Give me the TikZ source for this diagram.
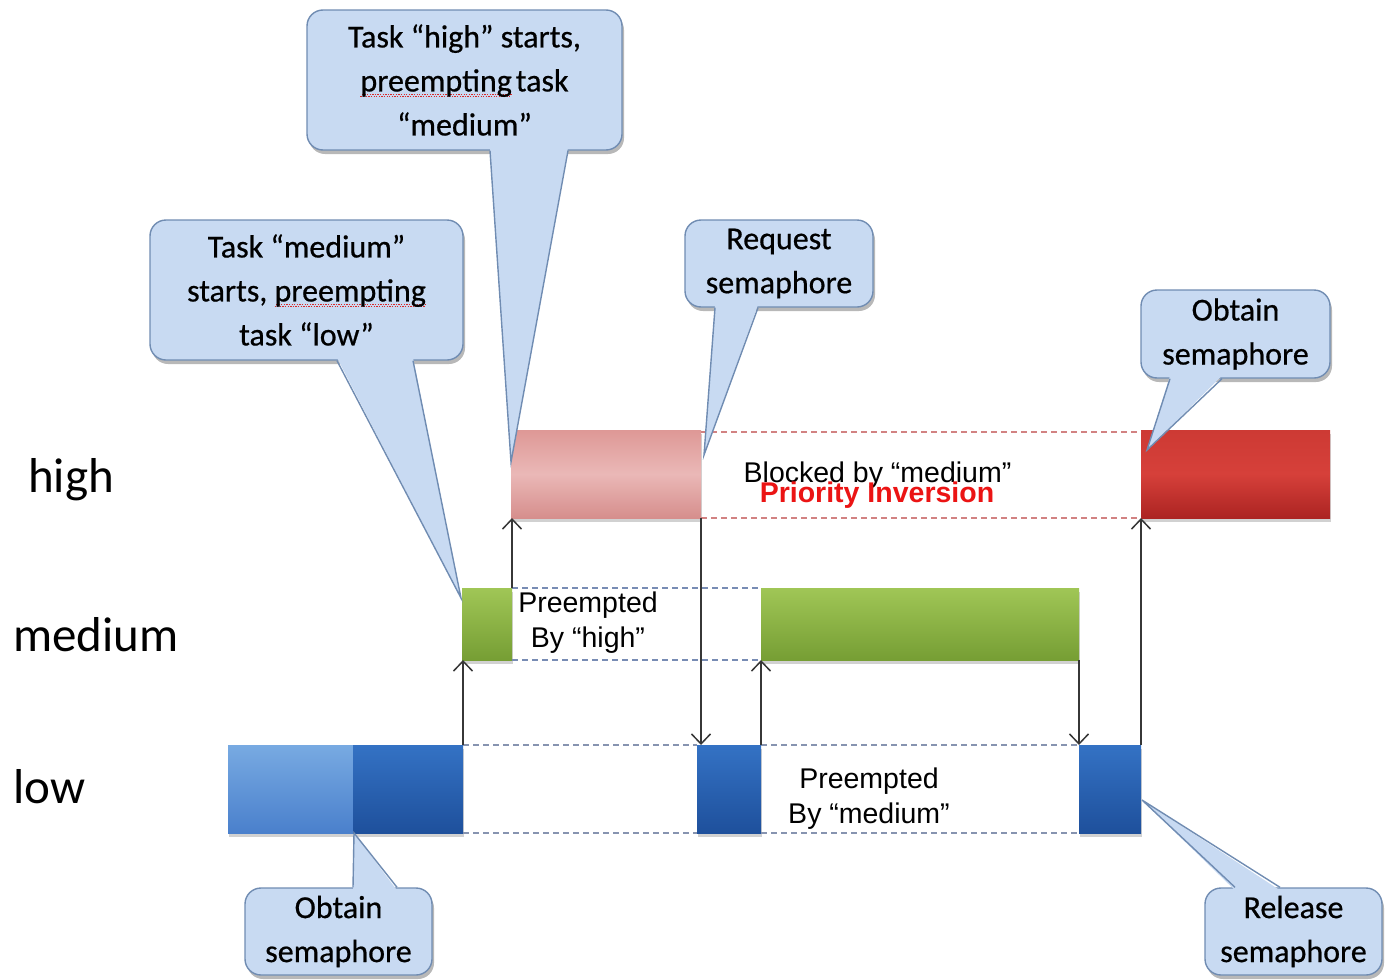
\documentclass[tikz,border=0pt]{standalone}
\usepackage{fontspec}
\setmainfont{Carlito}
\newfontfamily\calloutfont{Carlito}[FakeBold=0.6]
\newfontfamily\arialfont{Liberation Sans}
\usetikzlibrary{arrows.meta,shadows}

\definecolor{bubblefill}{RGB}{200,218,242}
\definecolor{bubbleline}{RGB}{112,140,178}
\definecolor{spellred}{RGB}{220,40,40}
\definecolor{pinkT}{RGB}{222,152,150}
\definecolor{pinkM}{RGB}{234,184,183}
\definecolor{pinkB}{RGB}{214,142,140}
\definecolor{redT}{RGB}{205,58,52}
\definecolor{redM}{RGB}{214,64,58}
\definecolor{redB}{RGB}{172,36,34}
\definecolor{greenT}{RGB}{160,198,86}
\definecolor{greenB}{RGB}{118,158,52}
\definecolor{lblueT}{RGB}{120,170,226}
\definecolor{lblueB}{RGB}{74,128,204}
\definecolor{dblueT}{RGB}{52,114,196}
\definecolor{dblueB}{RGB}{30,80,156}
\definecolor{hidash}{RGB}{210,130,130}
\definecolor{meddash}{RGB}{120,140,180}
\definecolor{lowdash}{RGB}{135,148,176}
\definecolor{arrowgray}{RGB}{55,55,55}
\definecolor{inversionred}{RGB}{235,20,20}

% wavy spell-check underline drawn under a word
\newcommand\spellmark{\textcolor{spellred}{\rule[-5pt]{1.3pt}{0.9pt}\rule[-3.8pt]{1.3pt}{0.9pt}}}
\newcommand\misspelt[1]{\leavevmode\setbox0\hbox{#1}%
  \rlap{\hbox to\wd0{\xleaders\hbox{\spellmark}\hfill}}\box0}

\begin{document}
\begin{tikzpicture}[x=1pt,y=-1pt,
  bar/.style={inner sep=0pt, outer sep=0pt, anchor=north west,
    drop shadow={shadow xshift=1pt, shadow yshift=-4pt, fill=black, opacity=0.18}},
  bubble/.style={draw=bubbleline, fill=bubblefill, line width=1.4pt,
    rounded corners=16pt, inner sep=0pt, align=center,
    font=\calloutfont\fontsize{32}{44}\selectfont,
    drop shadow={shadow xshift=2pt, shadow yshift=-4pt, fill=black, opacity=0.28}},
  beak/.style={fill=bubblefill},
  beakline/.style={draw=bubbleline, line width=1.4pt},
  level/.style={anchor=base west, inner sep=0pt, font=\fontsize{49}{49}\selectfont},
  note/.style={anchor=base, inner sep=0pt, align=center,
    font=\arialfont\fontsize{28.5}{35}\selectfont},
  hiline/.style={draw=hidash, line width=1.5pt, dash pattern=on 6pt off 4pt},
  medline/.style={draw=meddash, line width=1.5pt, dash pattern=on 6pt off 4pt},
  lowline/.style={draw=lowdash, line width=1.5pt, dash pattern=on 6pt off 4pt},
  switch/.style={draw=arrowgray, line width=1.6pt,
    -{Straight Barb[length=10pt,width=19pt,line width=1.5pt]}}
]
\useasboundingbox (0,0) rectangle (1385,980);

% priority levels
\node[level] (lvhigh) at (28,492) {high};
\node[level] (lvmed) at (13,651) {medium};
\node[level] (lvlow) at (13,803) {low};

% execution bars
\node[bar, minimum width=190pt, minimum height=88pt, top color=pinkT, bottom color=pinkB, middle color=pinkM] (highA) at (511,430) {};
\node[bar, minimum width=189pt, minimum height=88pt, top color=redT, bottom color=redB, middle color=redM] (highB) at (1141,430) {};
\node[bar, minimum width=50pt, minimum height=72pt, top color=greenT, bottom color=greenB] (medA) at (462,588) {};
\node[bar, minimum width=318pt, minimum height=72pt, top color=greenT, bottom color=greenB] (medB) at (761,588) {};
\node[bar, minimum width=125pt, minimum height=88pt, top color=lblueT, bottom color=lblueB] (lowA) at (228,745) {};
\node[bar, minimum width=110pt, minimum height=88pt, top color=dblueT, bottom color=dblueB] (lowB) at (353,745) {};
\node[bar, minimum width=64pt, minimum height=88pt, top color=dblueT, bottom color=dblueB] (lowC) at (697,745) {};
\node[bar, minimum width=62pt, minimum height=88pt, top color=dblueT, bottom color=dblueB] (lowD) at (1079,745) {};

% waiting intervals
\draw[hiline] ([yshift=-2pt]highA.north east) -- ([yshift=-2pt]highB.north west);
\draw[hiline] (highA.south east) -- (highB.south west);
\draw[medline] (medA.north east) -- (medB.north west);
\draw[medline] (medA.south east) -- (medB.south west);
\draw[lowline] (lowB.north east) -- (lowC.north west);
\draw[lowline] (lowB.south east) -- (lowC.south west);
\draw[lowline] (lowC.north east) -- (lowD.north west);
\draw[lowline] (lowC.south east) -- (lowD.south west);

% context switches
\draw[switch] (lowB.north east) -- (lowB.north east |- medA.south);
\draw[switch] (medA.north east) -- (medA.north east |- highA.south);
\draw[switch] (highA.south east) -- (highA.south east |- lowC.north);
\draw[switch] (lowC.north east) -- (lowC.north east |- medB.south);
\draw[switch] (medB.south east) -- (medB.south east |- lowD.north);
\draw[switch] (lowD.north east) -- (lowD.north east |- highB.south);

% interval notes
\node[note] (blocked) at (877.5,482) {Blocked by “medium”};
\node[note, text=inversionred, font=\arialfont\bfseries\fontsize{28.5}{35}\selectfont] (inversion) at (877,502) {Priority Inversion};
\node[note] (prehigh) at (588,647) {Preempted\\By “high”};
\node[note] (premed) at (869,823) {Preempted\\By “medium”};

% callouts
\node[bubble, minimum width=315pt, minimum height=140pt] (c1) at (464.5,80)
  {Task “high” starts,\\\misspelt{preempting}\hspace{4pt}task\\“medium”};
\coordinate (t1) at (511,462);
\fill[beak] ([xshift=25.5pt,yshift=3pt]c1.south) -- (t1) -- ([xshift=103.5pt,yshift=3pt]c1.south) -- cycle;
\draw[beakline] ([xshift=25.5pt]c1.south) -- (t1) -- ([xshift=103.5pt]c1.south);

\node[bubble, minimum width=313pt, minimum height=140pt] (c2) at (306.5,290)
  {Task “medium”\\starts, \misspelt{preempting}\\task “low”};
\coordinate (t2) at (461,598);
\fill[beak] ([xshift=30.5pt,yshift=3pt]c2.south) -- (t2) -- ([xshift=106.5pt,yshift=3pt]c2.south) -- cycle;
\draw[beakline] ([xshift=30.5pt]c2.south) -- (t2) -- ([xshift=106.5pt]c2.south);

\node[bubble, minimum width=188pt, minimum height=87pt] (c3) at (779,263.5)
  {Request\\semaphore};
\coordinate (t3) at (704,455);
\fill[beak] ([xshift=-64pt,yshift=3pt]c3.south) -- (t3) -- ([xshift=-21pt,yshift=3pt]c3.south) -- cycle;
\draw[beakline] ([xshift=-64pt]c3.south) -- (t3) -- ([xshift=-21pt]c3.south);

\node[bubble, minimum width=189pt, minimum height=88pt] (c4) at (1235.5,334)
  {Obtain\\semaphore};
\coordinate (t4) at (1147,450);
\fill[beak] ([xshift=-65.5pt,yshift=3pt]c4.south) -- (t4) -- ([xshift=-13.5pt,yshift=3pt]c4.south) -- cycle;
\draw[beakline] ([xshift=-65.5pt]c4.south) -- (t4) -- ([xshift=-13.5pt]c4.south);

\node[bubble, minimum width=187pt, minimum height=87pt] (c5) at (338.5,931.5)
  {Obtain\\semaphore};
\coordinate (t5) at (354,833);
\fill[beak] ([xshift=14.5pt,yshift=-3pt]c5.north) -- (t5) -- ([xshift=58.5pt,yshift=-3pt]c5.north) -- cycle;
\draw[beakline] ([xshift=14.5pt]c5.north) -- (t5) -- ([xshift=58.5pt]c5.north);

\node[bubble, minimum width=177pt, minimum height=87pt] (c6) at (1293.5,931.5)
  {Release\\semaphore};
\coordinate (t6) at (1142,800);
\fill[beak] ([xshift=-58.5pt,yshift=-3pt]c6.north) -- (t6) -- ([xshift=-13.5pt,yshift=-3pt]c6.north) -- cycle;
\draw[beakline] ([xshift=-58.5pt]c6.north) -- (t6) -- ([xshift=-13.5pt]c6.north);
\end{tikzpicture}
\end{document}
